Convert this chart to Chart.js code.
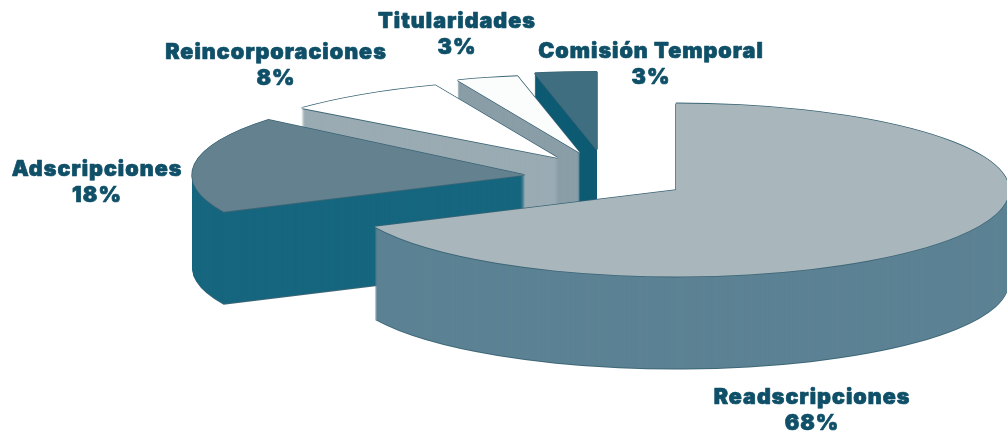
<!DOCTYPE html>
<html>
<head>
<meta charset="utf-8">
<style>
  html, body { margin: 0; padding: 0; background: #fff; }
</style>
</head>
<body>
<canvas id="pie" width="1007" height="433" style="display:block"></canvas>
<script src="https://cdn.jsdelivr.net/npm/chart.js@4"></script>
<script>
// data
const categories = ['Readscripciones', 'Adscripciones', 'Reincorporaciones', 'Titularidades', 'Comisión Temporal'];
const shares = [68, 18, 8, 3, 3];

// styles, one entry per slice
const topColors = ['#a9b7bd', '#63818f', '#ffffff', '#fbfcfc', '#3f6e80'];
const wallColors = ['#5c8294', '#16667f', '#9aabb3', '#8a9ea7', '#0d5a73'];
const shiftX = [0, -151, -118, -96, -79];
const shiftY = [0, -15, -32, -37, -40];
const squash = [0.26, 0.26, 0.235, 0.235, 0.235]; // back slices look flatter in the original
const labelX = [812, 97, 276, 457, 651];
const labelY = [398, 170, 53, 22, 52];

const pieRadius = 333;
const pieCenterX = 676;
const pieCenterY = 190;
const depth = 92;
const outlineColor = '#3d6676';
const textColor = '#0f5068';

function drawArcAt(chart, arc, i, color, dx, dy) {
    const ctx = chart.ctx;
    const cx = chart.chartArea.left + chart.chartArea.width / 2;
    const cy = chart.chartArea.top + chart.chartArea.height / 2;
    const saved = arc.options;
    arc.options = Object.assign({}, saved, { backgroundColor: color, borderWidth: 0 });
    ctx.save();
    ctx.setTransform(1, 0, 0, squash[i], pieCenterX - cx + shiftX[i] + dx, pieCenterY - cy * squash[i] + shiftY[i] + dy);
    arc.draw(ctx);
    ctx.restore();
    arc.options = saved;
}

// draws each slice as a stack of its own arc, back slices first
const extrudePlugin = {
    id: 'extrude',
    beforeDatasetsDraw(chart) {
        const arcs = chart.getDatasetMeta(0).data;
        for (let i = arcs.length - 1; i >= 0; i--) {
            const arc = arcs[i];
            drawArcAt(chart, arc, i, outlineColor, 0, depth + 1);
            for (let d = depth; d > 0; d--) {
                drawArcAt(chart, arc, i, wallColors[i], 0, d);
            }
            [[0, -0.8], [-0.8, 0], [0.8, 0], [0, 0.8]].forEach(o => {
                drawArcAt(chart, arc, i, outlineColor, o[0], o[1]);
            });
            drawArcAt(chart, arc, i, topColors[i], 0, 0);
        }
        return false;
    },
    afterDraw(chart) {
        const ctx = chart.ctx;
        ctx.save();
        ctx.fillStyle = textColor;
        ctx.strokeStyle = textColor;
        ctx.lineWidth = 0.7;
        ctx.lineJoin = 'round';
        ctx.textAlign = 'center';
        ctx.textBaseline = 'middle';
        ctx.font = '900 21.5px Inter';
        ctx.letterSpacing = '1px';
        categories.forEach((name, i) => {
            ctx.fillText(name, labelX[i], labelY[i]);
            ctx.strokeText(name, labelX[i], labelY[i]);
            ctx.fillText(shares[i] + '%', labelX[i], labelY[i] + 26);
            ctx.strokeText(shares[i] + '%', labelX[i], labelY[i] + 26);
        });
        ctx.restore();
    }
};

new Chart(document.getElementById('pie'), {
    type: 'pie',
    data: {
        labels: categories,
        datasets: [{ data: shares, backgroundColor: topColors, borderWidth: 0 }]
    },
    options: {
        responsive: false,
        animation: false,
        radius: pieRadius,
        layout: { padding: 0 },
        plugins: { legend: { display: false }, tooltip: { enabled: false } }
    },
    plugins: [extrudePlugin]
});
</script>
</body>
</html>
